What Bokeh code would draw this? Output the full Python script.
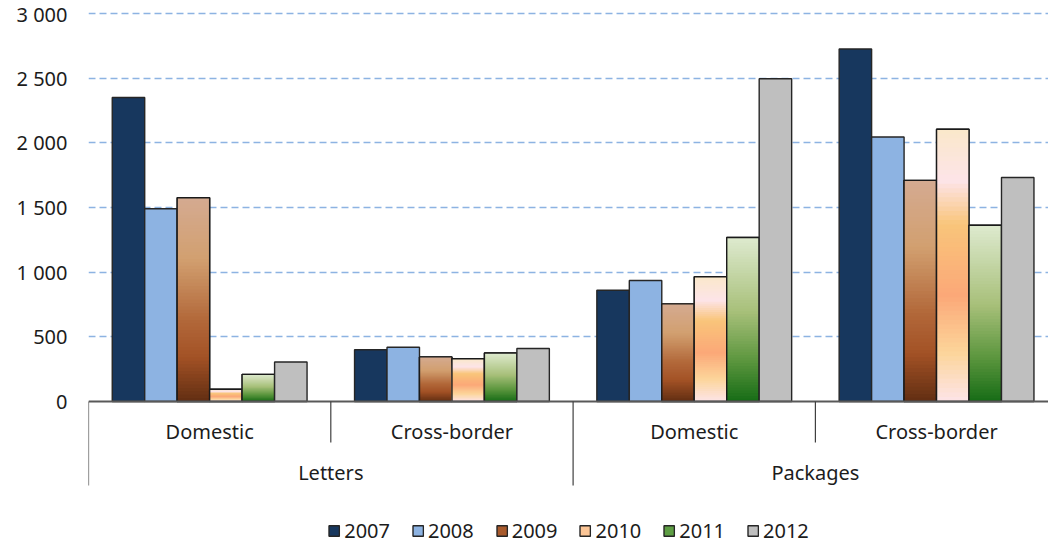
from bokeh.plotting import figure
from bokeh.models import Range1d, FixedTicker, Legend, LegendItem, ColumnDataSource
from bokeh.core.properties import value
from bokeh.embed import file_html
from bokeh.resources import INLINE

# ---------------- data ----------------
groups = ["Letters", "Packages"]
subgroups = ["Domestic", "Cross-border", "Domestic", "Cross-border"]
years = ["2007", "2008", "2009", "2010", "2011", "2012"]
v2007 = [2350, 400, 860, 2725]
v2008 = [1490, 420, 935, 2045]
v2009 = [1575, 345, 755, 1710]
v2010 = [95, 330, 965, 2105]
v2011 = [210, 375, 1268, 1363]
v2012 = [305, 410, 2495, 1732]
y_ticks = [0, 500, 1000, 1500, 2000, 2500, 3000]

series = [v2007, v2008, v2009, v2010, v2011, v2012]

# ---------------- styles ----------------
FONT = "Noto Sans"
TXT = "#1c1c1c"
solid_colors = ["#17375e", "#8db3e2", "#a85a2c", "#fbc596", "#5e9e44", "#bfbfbf"]
gradients = {
    2: [(0.0, (212, 170, 145)), (0.3, (210, 160, 112)), (0.6, (178, 104, 58)),
        (0.78, (163, 82, 38)), (1.0, (98, 46, 18))],
    3: [(0.0, (250, 232, 202)), (0.19, (253, 228, 232)), (0.35, (249, 197, 122)),
        (0.61, (251, 168, 120)), (0.82, (252, 213, 154)), (1.0, (253, 228, 232))],
    4: [(0.0, (222, 234, 207)), (0.45, (168, 192, 122)), (0.75, (92, 150, 62)),
        (1.0, (22, 108, 22))],
}


def grad_color(stops, t):
    for (t0, c0), (t1, c1) in zip(stops[:-1], stops[1:]):
        if t0 <= t <= t1:
            f = (t - t0) / (t1 - t0) if t1 > t0 else 0
            c = [round(a + (b - a) * f) for a, b in zip(c0, c1)]
            return "#%02x%02x%02x" % tuple(c)
    return "#%02x%02x%02x" % stops[-1][1]


PXU = 3000 / 388.0          # data units per pixel
W, H = 1048, 546
LEFT = 88
TOP_PAD = 13                # pixels above the 3000 line
ZERO_PX = 401               # pixel row of the zero line
y_max = 3000 + TOP_PAD * PXU
y_min = -(H - ZERO_PX) * PXU
n_groups = len(subgroups)
GPX = 242.3
x_max = (W - LEFT) / GPX

p = figure(width=W, height=H, output_backend="svg", toolbar_location=None,
           x_range=Range1d(0, x_max), y_range=Range1d(y_min, y_max),
           min_border_left=LEFT, min_border_right=0, min_border_top=0,
           min_border_bottom=0)
p.outline_line_color = None
p.xaxis.visible = False
p.xgrid.visible = False
p.ygrid.ticker = FixedTicker(ticks=y_ticks[1:])
p.ygrid.grid_line_color = "#8db3e2"
p.ygrid.grid_line_width = 1.5
p.ygrid.grid_line_dash = "7 4"

ya = p.yaxis[0]
ya.ticker = FixedTicker(ticks=y_ticks)
ya.major_label_overrides = {t: f"{t:,}".replace(",", " ") for t in y_ticks}
ya.axis_line_color = None
ya.major_tick_line_color = None
ya.minor_tick_line_color = None
ya.major_tick_out = 0
ya.major_label_standoff = 21
ya.major_label_text_font = FONT
ya.major_label_text_font_size = "20px"
ya.major_label_text_color = TXT

bw = 0.134
legend_items = []
for i, (yr, vals) in enumerate(zip(years, series)):
    xs = [g + 0.5 + (i - 2.5) * bw for g in range(n_groups)]
    src = ColumnDataSource(dict(l=[x - bw / 2 for x in xs], r=[x + bw / 2 for x in xs],
                                t=vals, b=[0] * n_groups))
    base = p.quad(left="l", right="r", top="t", bottom="b", source=src,
                  fill_color=solid_colors[i], line_color="#262626", line_width=1.4)
    legend_items.append(LegendItem(label=yr, renderers=[base]))
    if i in gradients:
        N = 60
        L, R, B, T, C = [], [], [], [], []
        # tallest slice first, shorter ones painted over it: no seams
        for k in range(N):
            for x, v in zip(xs, vals):
                B.append(0)
                T.append(v * (N - k) / N)
                L.append(x - bw / 2)
                R.append(x + bw / 2)
                C.append(grad_color(gradients[i], (k + 0.5) / N))
        p.quad(left=L, right=R, top=T, bottom=B, fill_color=C, line_color=None)
        p.quad(left="l", right="r", top="t", bottom="b", source=src,
               fill_color=None, line_color="#1a1a1a", line_width=1.4)

# baseline and category separators
p.segment(x0=[0], y0=[0], x1=[x_max], y1=[0], line_color="#595959", line_width=1.8)
sep_x = list(range(n_groups + 1))
sep_bottom = [-(84 * PXU) if k % 2 == 0 else -(41 * PXU) for k in sep_x]
p.segment(x0=sep_x, y0=[0] * len(sep_x), x1=sep_x, y1=sep_bottom,
          line_color="#404040", line_width=1.2)

p.text(x=[g + 0.5 for g in range(n_groups)], y=[-30 * PXU] * n_groups, text=subgroups,
       text_font=value(FONT), text_font_size="20px", text_color=TXT,
       text_align="center", text_baseline="middle")
p.text(x=[1.0 + 2 * k for k in range(len(groups))], y=[-71 * PXU] * len(groups),
       text=groups, text_font=value(FONT), text_font_size="20px", text_color=TXT,
       text_align="center", text_baseline="middle")

legend = Legend(items=legend_items, orientation="horizontal", location="bottom_center",
                glyph_width=13, glyph_height=13, label_standoff=4, spacing=21,
                label_height=14, padding=0, margin=2,
                label_text_font=FONT, label_text_font_size="20px",
                label_text_color=TXT, background_fill_alpha=0,
                border_line_color=None)
p.add_layout(legend)

open("out.html", "w").write(file_html(p, INLINE))
